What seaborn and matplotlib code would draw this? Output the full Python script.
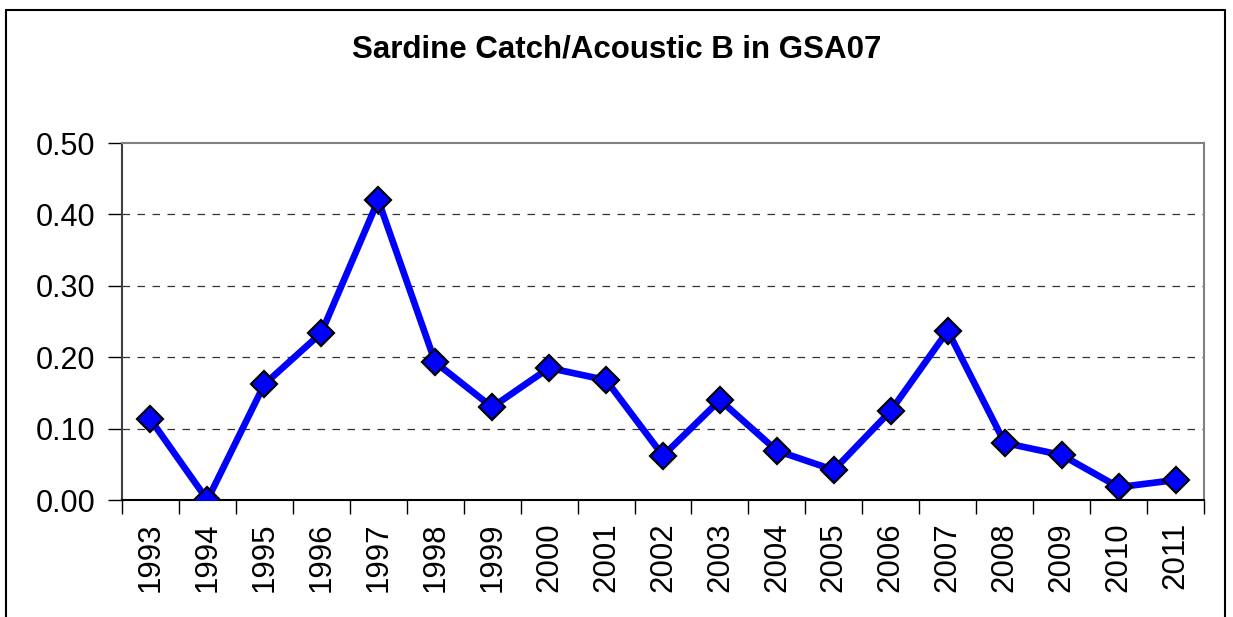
import matplotlib
matplotlib.use("Agg")
import matplotlib.pyplot as plt
from matplotlib.lines import Line2D
from matplotlib.ticker import FixedLocator
import seaborn as sns
import pandas as pd
import numpy as np

years = ["1993", "1994", "1995", "1996", "1997", "1998", "1999", "2000", "2001", "2002",
         "2003", "2004", "2005", "2006", "2007", "2008", "2009", "2010", "2011"]
ratio = [0.113, 0.000, 0.162, 0.234, 0.420, 0.193, 0.130, 0.185, 0.168, 0.062,
         0.140, 0.069, 0.042, 0.125, 0.237, 0.080, 0.063, 0.018, 0.028]
y_ticks = [0.0, 0.1, 0.2, 0.3, 0.4, 0.5]
title = "Sardine Catch/Acoustic B in GSA07"

sns.set_theme(style="white")
plt.rcParams["font.family"] = ["Liberation Sans", "DejaVu Sans"]
plt.rcParams["text.color"] = "black"
plt.rcParams["xtick.color"] = "black"
plt.rcParams["ytick.color"] = "black"

df = pd.DataFrame({"year": years, "ratio": ratio})

fig = plt.figure(figsize=(12.33, 6.17), dpi=100)
ax = fig.add_axes([0.0989, 0.1896, 0.8776, 0.5786])

sns.lineplot(data=df, x="year", y="ratio", sort=False, ax=ax,
             color="#0000FF", linewidth=4.8, marker="D", markersize=13.5,
             markerfacecolor="#0000FF", markeredgecolor="black", markeredgewidth=1.6,
             zorder=3)

n = len(years)
ax.set_xlim(-0.5, n - 0.5)
ax.set_ylim(0, 0.5)

# y axis
ax.set_yticks(y_ticks)
ax.set_yticklabels([f"{v:.2f}" for v in y_ticks], fontsize=22)
for v in y_ticks[1:-1]:
    ax.axhline(v, color="#333333", linestyle=(0, (6, 6)), linewidth=0.9, zorder=1)

# x axis: labels at category centres, tick marks at category boundaries
ax.xaxis.set_major_locator(FixedLocator(np.arange(n)))
ax.set_xticklabels(years, rotation=90, fontsize=22.5)
ax.xaxis.set_minor_locator(FixedLocator(np.arange(n + 1) - 0.5))
ax.tick_params(axis="x", which="major", length=0, pad=16)
ax.tick_params(axis="x", which="minor", length=10, width=1, color="black", direction="out", bottom=True)
ax.tick_params(axis="y", which="major", length=10, width=1, color="black", direction="out", left=True, pad=9)

ax.set_xlabel("")
ax.set_ylabel("")

for side in ["top", "right"]:
    ax.spines[side].set_color("#808080")
    ax.spines[side].set_linewidth(1.5)
ax.spines["left"].set_color("#404040")
ax.spines["left"].set_linewidth(1.5)
ax.spines["bottom"].set_color("black")
ax.spines["bottom"].set_linewidth(1.5)

fig.text(0.5, 1 - 49 / 617, title, ha="center", va="center",
         fontsize=22.5, fontweight="bold")

# chart frame
W, H = 1233, 617
x0, y0, x1 = 6 / W, 1 - 10 / H, 1225 / W
for xs, ys in [([x0, x1], [y0, y0]), ([x0, x0], [y0, -0.01]), ([x1, x1], [y0, -0.01])]:
    fig.add_artist(Line2D(xs, ys, transform=fig.transFigure, color="black", linewidth=1.5))

fig.savefig("out.png", dpi=100)
